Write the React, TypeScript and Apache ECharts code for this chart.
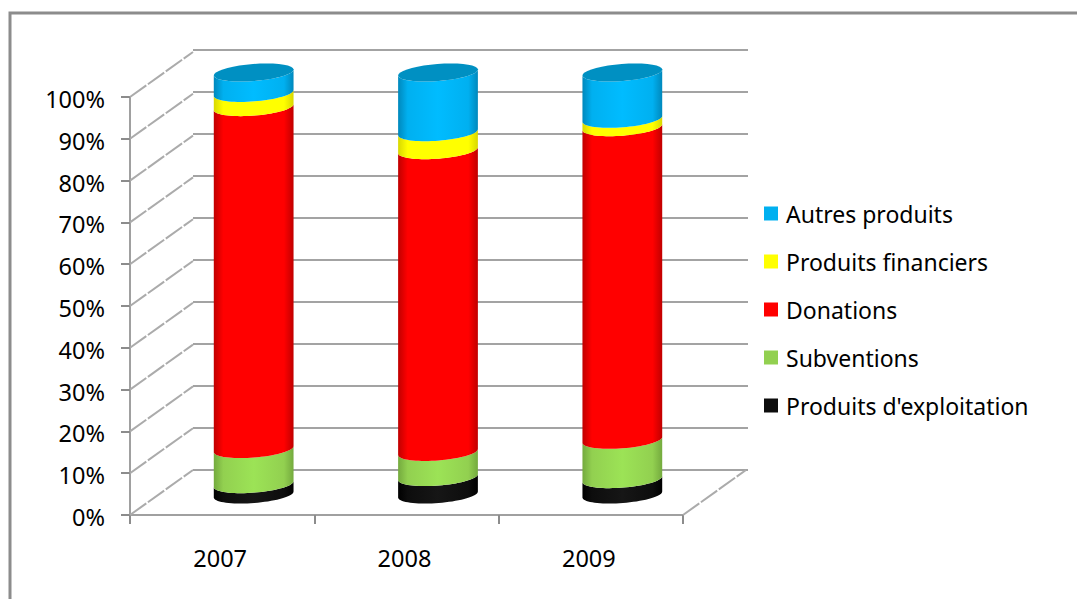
import React, { useEffect, useRef } from "react";
import * as echarts from "echarts";

const categories = ["2007", "2008", "2009"];
const seriesNames = ["Produits d'exploitation", "Subventions", "Donations", "Produits financiers", "Autres produits"];
const exploitation = [2.0, 3.7, 3.2];
const subventions = [8.4, 6.0, 9.4];
const donations = [81.8, 72.2, 74.8];
const financiers = [3.4, 4.3, 2.0];
const autres = [4.4, 13.8, 10.6];
const valueTicks = [0, 10, 20, 30, 40, 50, 60, 70, 80, 90, 100];
const allValues = [exploitation, subventions, donations, financiers, autres];
const frontColors = ["#0d0d0d", "#92d050", "#ff0000", "#ffff00", "#00b0f0"];
const midColors = ["#161616", "#9ce356", "#ff0000", "#ffff00", "#00bcff"];
const edgeColors = ["#000000", "#74aa3e", "#c00000", "#d8d800", "#0088bc"];
const topColor = "#0090c2";

const FONT = "Noto Sans";
const DEPTH_X = 63;
const DEPTH_Y = -45;
const RX = 40;
const RY = 8.5;
const TILT = 4.5;
const STEPS = 36;
const BASE_DROP = 2;
const TOP_RAISE = 2;

// Point of the tilted rim ellipse; t runs 0..PI along the front edge, PI..2PI along the back.
function rim(x: number, y: number, t: number): number[] {
  const px = RX * Math.cos(t);
  const py = RY * Math.sin(t);
  const a = (-TILT * Math.PI) / 180;
  return [x + px * Math.cos(a) - py * Math.sin(a), y + px * Math.sin(a) + py * Math.cos(a)];
}

function arcPoints(x: number, y: number, from: number, to: number): number[][] {
  const out: number[][] = [];
  for (let i = 0; i <= STEPS; i++) out.push(rim(x, y, from + ((to - from) * i) / STEPS));
  return out;
}

function cylinderRender(colorIndex: number, isBase: boolean, isTop: boolean) {
  return (_p: any, api: any) => {
    const cat = api.value(0);
    const [cx, y0] = api.coord([cat, api.value(1)]);
    const [, y1] = api.coord([cat, api.value(2)]);
    const x = cx + DEPTH_X / 2;
    const a = y0 + DEPTH_Y / 2 + (isBase ? BASE_DROP : 0);
    const b = y1 + DEPTH_Y / 2 - (isTop ? TOP_RAISE : 0);
    const fill = new echarts.graphic.LinearGradient(0, 0, 1, 0, [
      { offset: 0, color: edgeColors[colorIndex] },
      { offset: 0.12, color: frontColors[colorIndex] },
      { offset: 0.5, color: midColors[colorIndex] },
      { offset: 0.88, color: frontColors[colorIndex] },
      { offset: 1, color: edgeColors[colorIndex] },
    ]);
    const children: any[] = [
      {
        type: "polygon",
        shape: { points: [...arcPoints(x, a, 0, Math.PI), ...arcPoints(x, b, Math.PI, 0)] },
        style: { fill },
      },
    ];
    if (isTop) {
      children.push({
        type: "polygon",
        shape: { points: arcPoints(x, b, 0, Math.PI * 2) },
        style: { fill: topColor },
      });
    }
    return { type: "group", children };
  };
}

function depthRender(_p: any, api: any) {
  const cat = api.value(0);
  const side = api.value(2);
  const [cx, y] = api.coord([cat, api.value(1)]);
  const half = api.size([1, 0])[0] / 2;
  const x = cx + side * half;
  return {
    type: "line",
    shape: { x1: x, y1: y, x2: x + DEPTH_X, y2: y + DEPTH_Y },
    style: { stroke: "#ababab", lineWidth: 2, lineDash: [20, 2] },
  };
}

export default function App() {
  const ref = useRef<HTMLDivElement>(null);
  useEffect(() => {
    const chart = echarts.init(ref.current!, null, { renderer: "svg" });
    const cumulative = categories.map(() => 0);
    const bands = seriesNames.map((name, i) => {
      const data = categories.map((_c, c) => {
        const from = cumulative[c];
        cumulative[c] = from + allValues[i][c];
        return [c, from, cumulative[c]];
      });
      return {
        type: "custom",
        name,
        xAxisIndex: 0,
        yAxisIndex: 0,
        z: 5,
        clip: false,
        silent: true,
        itemStyle: { color: frontColors[i] },
        renderItem: cylinderRender(i, i === 0, i === seriesNames.length - 1),
        data,
      };
    });
    const diagonals = [
      ...valueTicks.map((v) => [0, v, -1]),
      [categories.length - 1, 0, 1],
    ];
    chart.setOption({
      animation: false,
      backgroundColor: "#ffffff",
      textStyle: { fontFamily: FONT },
      grid: [
        { left: 130, top: 97, width: 553, height: 418 },
        { left: 193, top: 50, width: 555, height: 420 },
      ],
      xAxis: [
        {
          type: "category",
          gridIndex: 0,
          data: categories,
          axisLine: { lineStyle: { color: "#a0a0a0", width: 2 } },
          axisTick: { show: true, length: 9, lineStyle: { color: "#8c8c8c", width: 2 } },
          axisLabel: { color: "#000", fontSize: 23.5, fontFamily: FONT, margin: 31, padding: [0, 4, 0, 0] },
        },
        {
          type: "category",
          gridIndex: 1,
          data: categories,
          axisLine: { show: false },
          axisTick: { show: false },
          axisLabel: { show: false },
        },
      ],
      yAxis: [
        {
          type: "value",
          gridIndex: 0,
          min: 0,
          max: 100,
          interval: 10,
          axisLine: { show: true, lineStyle: { color: "#a0a0a0", width: 2 } },
          axisTick: { show: true, length: 9, lineStyle: { color: "#8c8c8c", width: 2 } },
          splitLine: { show: false },
          axisLabel: {
            margin: 25,
            formatter: "{a|{value}%}",
            rich: {
              a: {
                color: "#000",
                fontSize: 23.5,
                fontFamily: FONT,
                padding: [4, 0, 0, 0],
              },
            },
          },
        },
        {
          type: "value",
          gridIndex: 1,
          min: 0,
          max: 100,
          interval: 10,
          axisLine: { show: false },
          axisTick: { show: false },
          axisLabel: { show: false },
          splitLine: { show: true, lineStyle: { color: "#a3a3a3", width: 2 } },
        },
      ],
      legend: {
        orient: "vertical",
        left: 759,
        top: 197,
        icon: "rect",
        itemWidth: 14,
        itemHeight: 14,
        itemGap: 25,
        selectedMode: false,
        textStyle: { color: "#000", fontSize: 23, fontFamily: FONT, padding: [0, 0, 0, 3] },
        data: [...seriesNames].reverse(),
      },
      graphic: [
        {
          type: "polyline",
          silent: true,
          shape: { points: [[10, 599], [10, 13], [1077, 13]] },
          style: { stroke: "#8c8c8c", lineWidth: 3, fill: "none" },
        },
      ],
      series: [
        {
          type: "custom",
          xAxisIndex: 0,
          yAxisIndex: 0,
          z: 2,
          clip: false,
          silent: true,
          renderItem: depthRender,
          data: diagonals,
        },
        ...bands,
      ],
    });
    return () => chart.dispose();
  }, []);
  return (
    <div
      ref={ref}
      style={{ position: "fixed", left: 0, top: 0, width: 1077, height: 599 }}
    />
  );
}
